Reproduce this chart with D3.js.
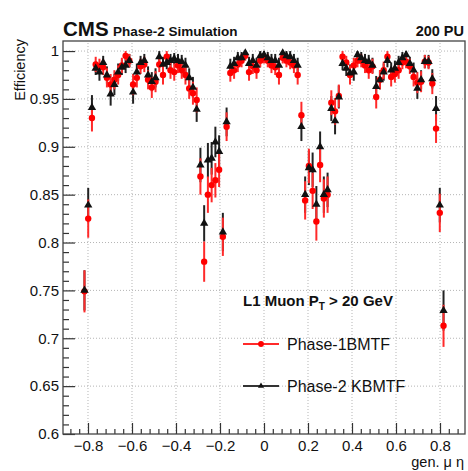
<!DOCTYPE html>
<html>
<head>
<meta charset="utf-8">
<script src="https://cdn.jsdelivr.net/npm/d3@7"></script>
<style>
  body { margin: 0; background: #fff; }
  svg { font-family: "Liberation Sans", Arial, Helvetica, sans-serif; }
</style>
</head>
<body>
<div id="chart"></div>
<script>
const width = 468;
const height = 471;
const colorPhase1 = "#ff0000";
const colorPhase2 = "#111";
const fontFamily = "Liberation Sans, Arial, Helvetica, sans-serif";

// bin centres in generated muon eta
const eta = [
  -0.816, -0.799, -0.782, -0.765, -0.748, -0.731, -0.714, -0.697, -0.680, -0.663,
  -0.646, -0.629, -0.612, -0.595, -0.578, -0.561, -0.544, -0.527, -0.510, -0.493,
  -0.476, -0.459, -0.442, -0.425, -0.408, -0.391, -0.374, -0.357, -0.340, -0.323,
  -0.306, -0.289, -0.272, -0.255, -0.238, -0.221, -0.204, -0.187, -0.170, -0.153,
  -0.136, -0.119, -0.102, -0.085, -0.068, -0.051, -0.034, -0.017, 0.000, 0.017,
  0.034, 0.051, 0.068, 0.085, 0.102, 0.119, 0.136, 0.153, 0.170, 0.187,
  0.204, 0.221, 0.238, 0.255, 0.272, 0.289, 0.306, 0.323, 0.340, 0.357,
  0.374, 0.391, 0.408, 0.425, 0.442, 0.459, 0.476, 0.493, 0.510, 0.527,
  0.544, 0.561, 0.578, 0.595, 0.612, 0.629, 0.646, 0.663, 0.680, 0.697,
  0.714, 0.731, 0.748, 0.765, 0.782, 0.799, 0.816
];

// Phase-1 BMTF (red circles)
const effPhase1 = [
  0.749, 0.825, 0.930, 0.986, 0.984, 0.983, 0.972, 0.965, 0.970, 0.975,
  0.985, 0.995, 0.990, 0.965, 0.972, 0.984, 0.986, 0.970, 0.962, 0.968,
  0.986, 0.975, 0.994, 0.980, 0.978, 0.985, 0.980, 0.975, 0.961, 0.956,
  0.949, 0.869, 0.780, 0.850, 0.860, 0.865, 0.876, 0.806, 0.921, 0.977,
  0.980, 0.986, 0.990, 0.995, 0.978, 0.984, 0.980, 0.990, 0.993, 0.990,
  0.985, 0.983, 0.975, 0.993, 0.990, 0.988, 0.985, 0.975, 0.933, 0.844,
  0.880, 0.854, 0.822, 0.881, 0.846, 0.850, 0.946, 0.937, 0.953, 0.994,
  0.988, 0.975, 0.985, 0.990, 0.990, 0.985, 0.980, 0.984, 0.952, 0.970,
  0.980, 0.994, 0.973, 0.976, 0.980, 0.988, 0.989, 0.984, 0.973, 0.967,
  0.968, 0.989, 0.988, 0.966, 0.919, 0.831, 0.713
];
const errPhase1 = [
  0.022, 0.020, 0.014, 0.008, 0.008, 0.008, 0.010, 0.011, 0.010, 0.010,
  0.008, 0.005, 0.007, 0.011, 0.010, 0.008, 0.008, 0.010, 0.011, 0.011,
  0.008, 0.010, 0.006, 0.009, 0.009, 0.008, 0.009, 0.010, 0.011, 0.012,
  0.013, 0.019, 0.021, 0.019, 0.018, 0.018, 0.018, 0.020, 0.015, 0.009,
  0.009, 0.008, 0.007, 0.005, 0.009, 0.008, 0.009, 0.007, 0.006, 0.007,
  0.008, 0.008, 0.010, 0.006, 0.007, 0.007, 0.008, 0.010, 0.014, 0.020,
  0.018, 0.019, 0.020, 0.018, 0.020, 0.019, 0.013, 0.014, 0.012, 0.006,
  0.007, 0.010, 0.008, 0.007, 0.007, 0.008, 0.009, 0.008, 0.012, 0.010,
  0.009, 0.006, 0.010, 0.009, 0.009, 0.007, 0.007, 0.008, 0.010, 0.011,
  0.011, 0.007, 0.007, 0.011, 0.015, 0.020, 0.022
];

// Phase-2 KBMTF (black triangles)
const effPhase2 = [
  0.750, 0.839, 0.941, 0.982, 0.978, 0.988, 0.975, 0.955, 0.965, 0.978,
  0.983, 0.985, 0.990, 0.957, 0.978, 0.988, 0.990, 0.975, 0.968, 0.972,
  0.994, 0.986, 0.988, 0.990, 0.992, 0.990, 0.989, 0.985, 0.972, 0.962,
  0.939, 0.881, 0.820, 0.886, 0.888, 0.905, 0.895, 0.811, 0.926, 0.984,
  0.987, 0.993, 0.993, 0.998, 0.987, 0.990, 0.985, 0.995, 0.996, 0.993,
  0.990, 0.990, 0.985, 0.998, 0.995, 0.994, 0.990, 0.985, 0.921, 0.850,
  0.878, 0.876, 0.840, 0.900, 0.850, 0.855, 0.940, 0.927, 0.952, 0.987,
  0.982, 0.977, 0.978, 0.996, 0.993, 0.990, 0.989, 0.985, 0.963, 0.970,
  0.978, 0.990, 0.980, 0.982, 0.988, 0.993, 0.996, 0.987, 0.980, 0.961,
  0.970, 0.989, 0.989, 0.971, 0.940, 0.839, 0.729
];
const errPhase2 = [
  0.021, 0.018, 0.013, 0.007, 0.009, 0.007, 0.009, 0.012, 0.011, 0.009,
  0.008, 0.008, 0.007, 0.012, 0.009, 0.007, 0.007, 0.009, 0.010, 0.010,
  0.006, 0.008, 0.007, 0.007, 0.006, 0.007, 0.007, 0.008, 0.010, 0.011,
  0.013, 0.018, 0.019, 0.018, 0.017, 0.016, 0.017, 0.020, 0.015, 0.008,
  0.007, 0.006, 0.006, 0.004, 0.007, 0.007, 0.008, 0.005, 0.005, 0.006,
  0.007, 0.007, 0.008, 0.004, 0.005, 0.006, 0.007, 0.008, 0.015, 0.019,
  0.018, 0.018, 0.019, 0.016, 0.019, 0.018, 0.013, 0.014, 0.012, 0.007,
  0.008, 0.009, 0.009, 0.005, 0.006, 0.007, 0.007, 0.008, 0.011, 0.010,
  0.009, 0.007, 0.008, 0.008, 0.007, 0.006, 0.005, 0.007, 0.008, 0.011,
  0.010, 0.007, 0.007, 0.010, 0.013, 0.018, 0.021
];

const xTicks = [-0.8, -0.6, -0.4, -0.2, 0, 0.2, 0.4, 0.6, 0.8];
const yTicks = [0.6, 0.65, 0.7, 0.75, 0.8, 0.85, 0.9, 0.95, 1];

const x = d3.scaleLinear().domain([-0.9136, 0.9136]).range([63, 465]);
const y = d3.scaleLinear().domain([0.6, 1.0105]).range([434, 41]);

const svg = d3.select("#chart")
    .append("svg")
    .attr("width", width)
    .attr("height", height);

// dotted grid
const grid = svg.append("g")
    .attr("stroke", "#b5b5b5")
    .attr("stroke-width", 1)
    .attr("stroke-dasharray", "1,2");
grid.selectAll(".gx")
    .data(xTicks)
    .join("line")
    .attr("class", "gx")
    .attr("x1", d => x(d)).attr("x2", d => x(d))
    .attr("y1", y.range()[0]).attr("y2", y.range()[1]);
grid.selectAll(".gy")
    .data(yTicks.slice(1))
    .join("line")
    .attr("class", "gy")
    .attr("x1", x.range()[0]).attr("x2", x.range()[1])
    .attr("y1", d => y(d)).attr("y2", d => y(d));

// axes
const fmtX = d => d === 0 ? "0" : d3.format(".1f")(d);
const fmtY = d => d === 1 ? "1" : d3.format(".2~f")(d);

function styleAxis(g) {
    g.select(".domain").remove();
    g.selectAll(".tick line").attr("stroke", "#333").attr("stroke-width", 1.2);
    g.selectAll("text").attr("fill", "#111");
    g.attr("font-family", fontFamily).attr("font-size", 15);
}

svg.append("g")
    .attr("transform", `translate(0,${y(0.6)})`)
    .call(d3.axisBottom(x).tickValues(xTicks).tickSize(-11).tickPadding(6).tickFormat(fmtX))
    .call(styleAxis);
svg.append("g")
    .attr("transform", `translate(0,${y(0.6)})`)
    .call(d3.axisBottom(x).tickValues(d3.range(-0.88, 0.9, 0.04).filter(v => Math.abs(v * 5 - Math.round(v * 5)) > 1e-6)).tickSize(-5).tickFormat(""))
    .call(styleAxis);
svg.append("g")
    .attr("transform", `translate(${x.range()[0]},0)`)
    .call(d3.axisLeft(y).tickValues(yTicks).tickSize(-12).tickPadding(4).tickFormat(fmtY))
    .call(styleAxis);
svg.append("g")
    .attr("transform", `translate(${x.range()[0]},0)`)
    .call(d3.axisLeft(y).tickValues(d3.range(0.61, 1.01, 0.01).filter(v => Math.abs(v * 20 - Math.round(v * 20)) > 1e-6)).tickSize(-6).tickFormat(""))
    .call(styleAxis);

// frame
svg.append("rect")
    .attr("x", x.range()[0]).attr("y", y.range()[1])
    .attr("width", x.range()[1] - x.range()[0])
    .attr("height", y.range()[0] - y.range()[1])
    .attr("fill", "none")
    .attr("stroke", "#444")
    .attr("stroke-width", 1.3);

// data
const phase1 = eta.map((e, i) => ({eta: e, eff: effPhase1[i], err: errPhase1[i]}));
const phase2 = eta.map((e, i) => ({eta: e, eff: effPhase2[i], err: errPhase2[i]}));

function errorBars(data, color) {
    svg.append("g")
        .attr("stroke", color)
        .attr("stroke-width", 2)
        .selectAll("line")
        .data(data)
        .join("line")
        .attr("x1", d => x(d.eta)).attr("x2", d => x(d.eta))
        .attr("y1", d => y(d.eff - d.err))
        .attr("y2", d => y(Math.min(1, d.eff + d.err)));
}

errorBars(phase2, "#222");
errorBars(phase1, "#ff2a2a");

svg.append("g")
    .attr("fill", colorPhase1)
    .selectAll("circle")
    .data(phase1)
    .join("circle")
    .attr("cx", d => x(d.eta))
    .attr("cy", d => y(d.eff))
    .attr("r", 3.2);

const tri = d3.symbol().type(d3.symbolTriangle).size(30);
svg.append("g")
    .attr("fill", colorPhase2)
    .selectAll("path")
    .data(phase2)
    .join("path")
    .attr("transform", d => `translate(${x(d.eta)},${y(d.eff)})`)
    .attr("d", tri);

// titles
const title = svg.append("g").attr("font-family", fontFamily).attr("font-weight", "bold").attr("fill", "#111");
title.append("text").attr("x", 63).attr("y", 36).attr("font-size", 20.5).text("CMS");
title.append("text").attr("x", 113).attr("y", 36).attr("font-size", 13.5).text("Phase-2 Simulation");
title.append("text").attr("x", 464).attr("y", 36).attr("font-size", 14.5).attr("text-anchor", "end").text("200 PU");

svg.append("text")
    .attr("transform", "translate(25,39) rotate(-90)")
    .attr("text-anchor", "end")
    .attr("font-family", fontFamily)
    .attr("font-size", 14.5)
    .attr("fill", "#111")
    .text("Efficiency");

svg.append("text")
    .attr("x", 464).attr("y", 467)
    .attr("text-anchor", "end")
    .attr("font-family", fontFamily)
    .attr("font-size", 14.5)
    .attr("fill", "#111")
    .text("gen. μ η");

// legend
const legend = svg.append("g").attr("font-family", fontFamily).attr("fill", "#111");
const head = legend.append("text").attr("x", 243).attr("y", 306).attr("font-size", 15).attr("font-weight", "bold");
head.append("tspan").text("L1 Muon P");
head.append("tspan").attr("font-size", 10).attr("dy", 4).text("T");
head.append("tspan").attr("dy", -4).text(" > 20 GeV");

const entries = [
    {label: "Phase-1BMTF", color: "#ff2a2a", fill: colorPhase1, shape: "circle", y: 344},
    {label: "Phase-2 KBMTF", color: "#333", fill: colorPhase2, shape: "triangle", y: 386}
];
const entry = legend.selectAll(".entry")
    .data(entries)
    .join("g")
    .attr("class", "entry")
    .attr("transform", d => `translate(0,${d.y})`);
entry.append("line")
    .attr("x1", 243).attr("x2", 279)
    .attr("stroke", d => d.color)
    .attr("stroke-width", 1.8);
entry.append("path")
    .attr("transform", "translate(261,0)")
    .attr("fill", d => d.fill)
    .attr("d", d => d.shape === "circle"
        ? d3.symbol().type(d3.symbolCircle).size(26)()
        : d3.symbol().type(d3.symbolTriangle).size(16)());
entry.append("text")
    .attr("x", 287).attr("y", 6)
    .attr("font-size", 16)
    .text(d => d.label);
</script>
</body>
</html>
